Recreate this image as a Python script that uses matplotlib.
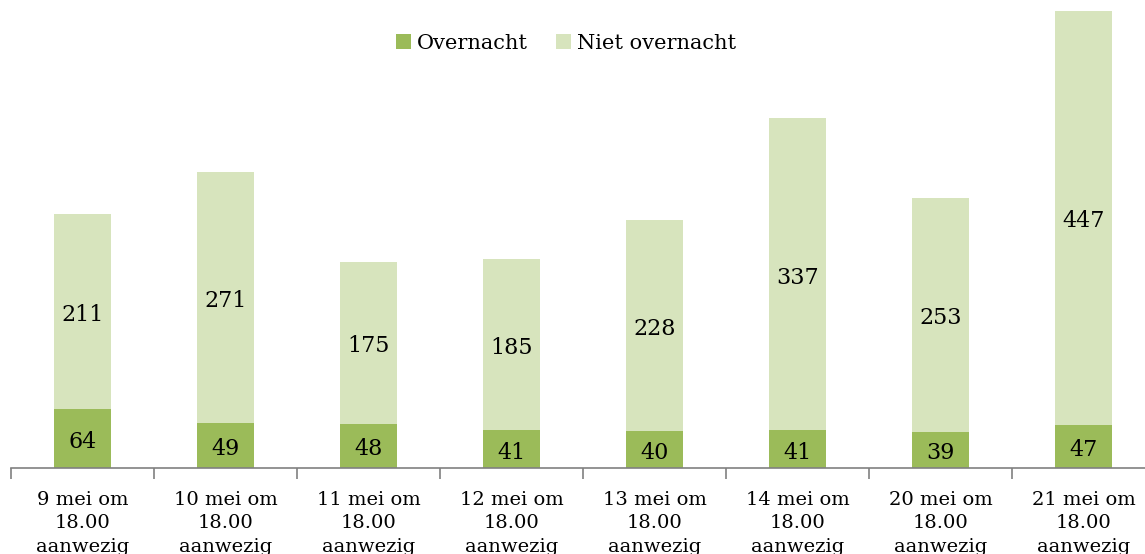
import matplotlib
matplotlib.use("Agg")
import matplotlib.pyplot as plt
import numpy as np

categories = ["9 mei om\n18.00\naanwezig", "10 mei om\n18.00\naanwezig", "11 mei om\n18.00\naanwezig",
              "12 mei om\n18.00\naanwezig", "13 mei om\n18.00\naanwezig", "14 mei om\n18.00\naanwezig",
              "20 mei om\n18.00\naanwezig", "21 mei om\n18.00\naanwezig"]
overnacht = [64, 49, 48, 41, 40, 41, 39, 47]
niet_overnacht = [211, 271, 175, 185, 228, 337, 253, 447]

dark = "#9BBB59"
light = "#D7E4BD"
font = "DejaVu Serif"

W, H = 1145, 554
fig = plt.figure(figsize=(W / 100, H / 100), dpi=100)
ax = fig.add_axes([11 / W, (H - 468) / H, 1144 / W, 468 / H])

x = np.arange(len(categories))
ax.bar(x, overnacht, width=0.4, color=dark, label="Overnacht")
ax.bar(x, niet_overnacht, width=0.4, bottom=overnacht, color=light, label="Niet overnacht")

for i in range(len(x)):
    ax.annotate(str(overnacht[i]), (x[i], overnacht[i] / 2), xytext=(0, -2.5),
                textcoords="offset points", ha="center", va="center",
                fontsize=16, family=font, color="black")
    ax.annotate(str(niet_overnacht[i]), (x[i], overnacht[i] + niet_overnacht[i] / 2),
                xytext=(0, -2.5), textcoords="offset points", ha="center",
                va="center", fontsize=16, family=font, color="black")

ax.set_xlim(-0.5, len(categories) - 0.5)
ax.set_ylim(0, 505.9)
ax.set_yticks([])
for s in ["top", "right", "left"]:
    ax.spines[s].set_visible(False)
ax.spines["bottom"].set_color("#808080")
ax.spines["bottom"].set_linewidth(1.2)

ax.set_xticks(np.arange(len(categories) + 1) - 0.5)
ax.set_xticklabels([])
ax.tick_params(axis="x", which="major", length=8, color="#808080", width=1.2, direction="out")
ax.set_xticks(x, minor=True)
ax.set_xticklabels(categories, minor=True, family=font, fontsize=14, linespacing=1.38,
                   va="top")
ax.tick_params(axis="x", which="minor", length=0, pad=16.5)

leg = fig.legend(loc="center", bbox_to_anchor=(566 / W, 1 - 43 / H), ncol=2, frameon=False,
                 prop={"family": font, "size": 15}, handlelength=0.7, handleheight=0.7,
                 handletextpad=0.3, columnspacing=1.35)

fig.savefig("out.png", dpi=100)
